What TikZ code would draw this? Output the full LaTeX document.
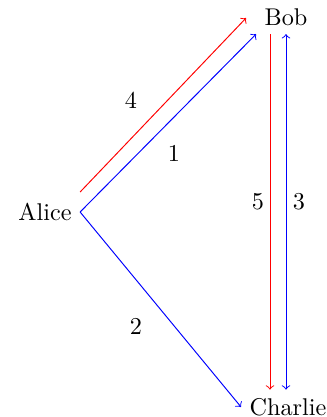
\documentclass[tikz,border=0pt]{standalone}
\usetikzlibrary{calc}
\begin{document}
\begin{tikzpicture}[x={(0.413pt,0)},y={(0,-0.413pt)},
  edge/.style={->,line width=0.4pt},
  lbl/.style={inner sep=1pt}]
\useasboundingbox (0,0) rectangle (327,417);
\node (alice) at (45,212) {Alice};
\node (bob) at (286,17) {Bob};
\node (charlie) at (288,407) {Charlie};
\draw[edge,red] ($(alice.east)+(0,-20)$) -- ($(bob.west)+(-10,1)$);
\draw[edge,blue] (alice.east) -- (bob.south west);
\draw[edge,blue] (alice.east) -- (charlie.west);
\draw[edge,red] ($(bob.south)+(-16,0)$) -- ($(charlie.north)+(-18,0)$);
\draw[<->,blue,line width=0.4pt] (bob.south) -- ($(charlie.north)+(-2,0)$);
\node[lbl] (l4) at (131,100) {4};
\node[lbl] (l1) at (174,153) {1};
\node[lbl] (l2) at (136,326) {2};
\node[lbl] (l5) at (258,202) {5};
\node[lbl] (l3) at (299,202) {3};
\end{tikzpicture}
\end{document}
